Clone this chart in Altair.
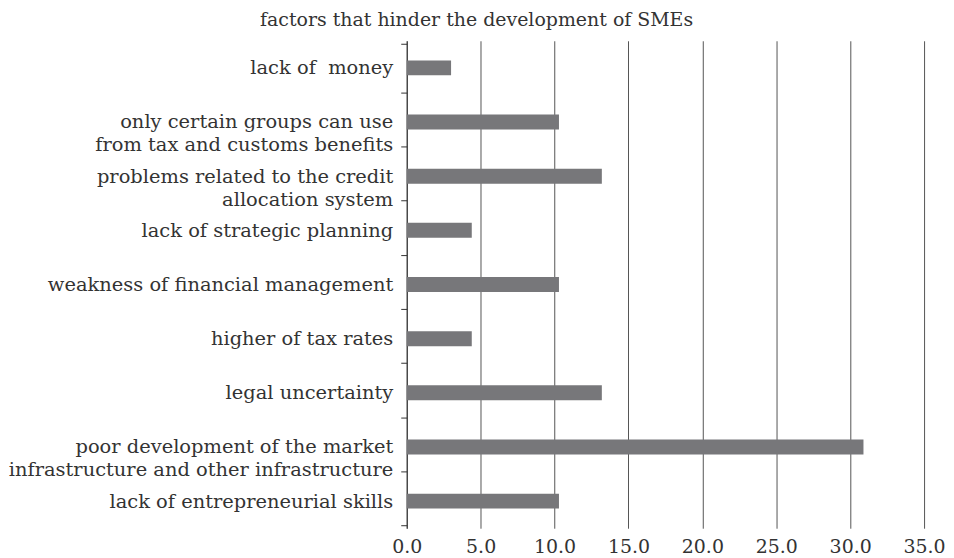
import altair as alt
import pandas as pd

categories = [
    "lack of\u00a0 money",
    "only certain groups can use|from tax and customs benefits",
    "problems related to the credit|allocation system",
    "lack of strategic planning",
    "weakness of financial management",
    "higher of tax rates",
    "legal uncertainty",
    "poor development of the market|infrastructure and other infrastructure",
    "lack of entrepreneurial skills",
]
values = [3.0, 10.3, 13.2, 4.4, 10.3, 4.4, 13.2, 30.9, 10.3]
x_ticks = [0, 5, 10, 15, 20, 25, 30, 35]

df = pd.DataFrame({"factor": categories, "value": values})

FONT = "DejaVu Serif"

chart = (
    alt.Chart(df)
    .mark_bar(color="#77777a", size=15)
    .encode(
        x=alt.X(
            "value:Q",
            scale=alt.Scale(domain=[0, 35], nice=False, zero=True),
            axis=alt.Axis(
                values=x_ticks,
                format=".1f",
                title=None,
                domain=False,
                ticks=False,
                grid=True,
                gridColor="#555555",
                gridWidth=1,
                gridOpacity=1,
                labelPadding=9,
                labelFlush=False,
                labelFontSize=19,
                labelFont=FONT,
                labelColor="#333333",
            ),
        ),
        y=alt.Y(
            "factor:N",
            sort=categories,
            axis=alt.Axis(
                title=None,
                labelExpr="split(datum.label, '|')",
                labelFontSize=19.5,
                labelFont=FONT,
                labelColor="#333333",
                labelLineHeight=23,
                labelPadding=8,
                labelLimit=600,
                tickBand="extent",
                tickSize=6,
                tickColor="#333333",
                domainColor="#333333",
                grid=False,
            ),
        ),
    )
    .properties(
        width=519,
        height=489,
        padding={"left": 0, "top": 2, "right": 0, "bottom": 0},
        title=alt.TitleParams(
            "factors that hinder the development of SMEs",
            font=FONT,
            fontSize=19,
            fontWeight="normal",
            color="#333333",
            anchor="middle",
            frame="bounds",
            offset=1,
        ),
    )
    .configure_view(stroke=None)
)

chart.save("out.html", embed_options={"renderer": "svg", "actions": False})
